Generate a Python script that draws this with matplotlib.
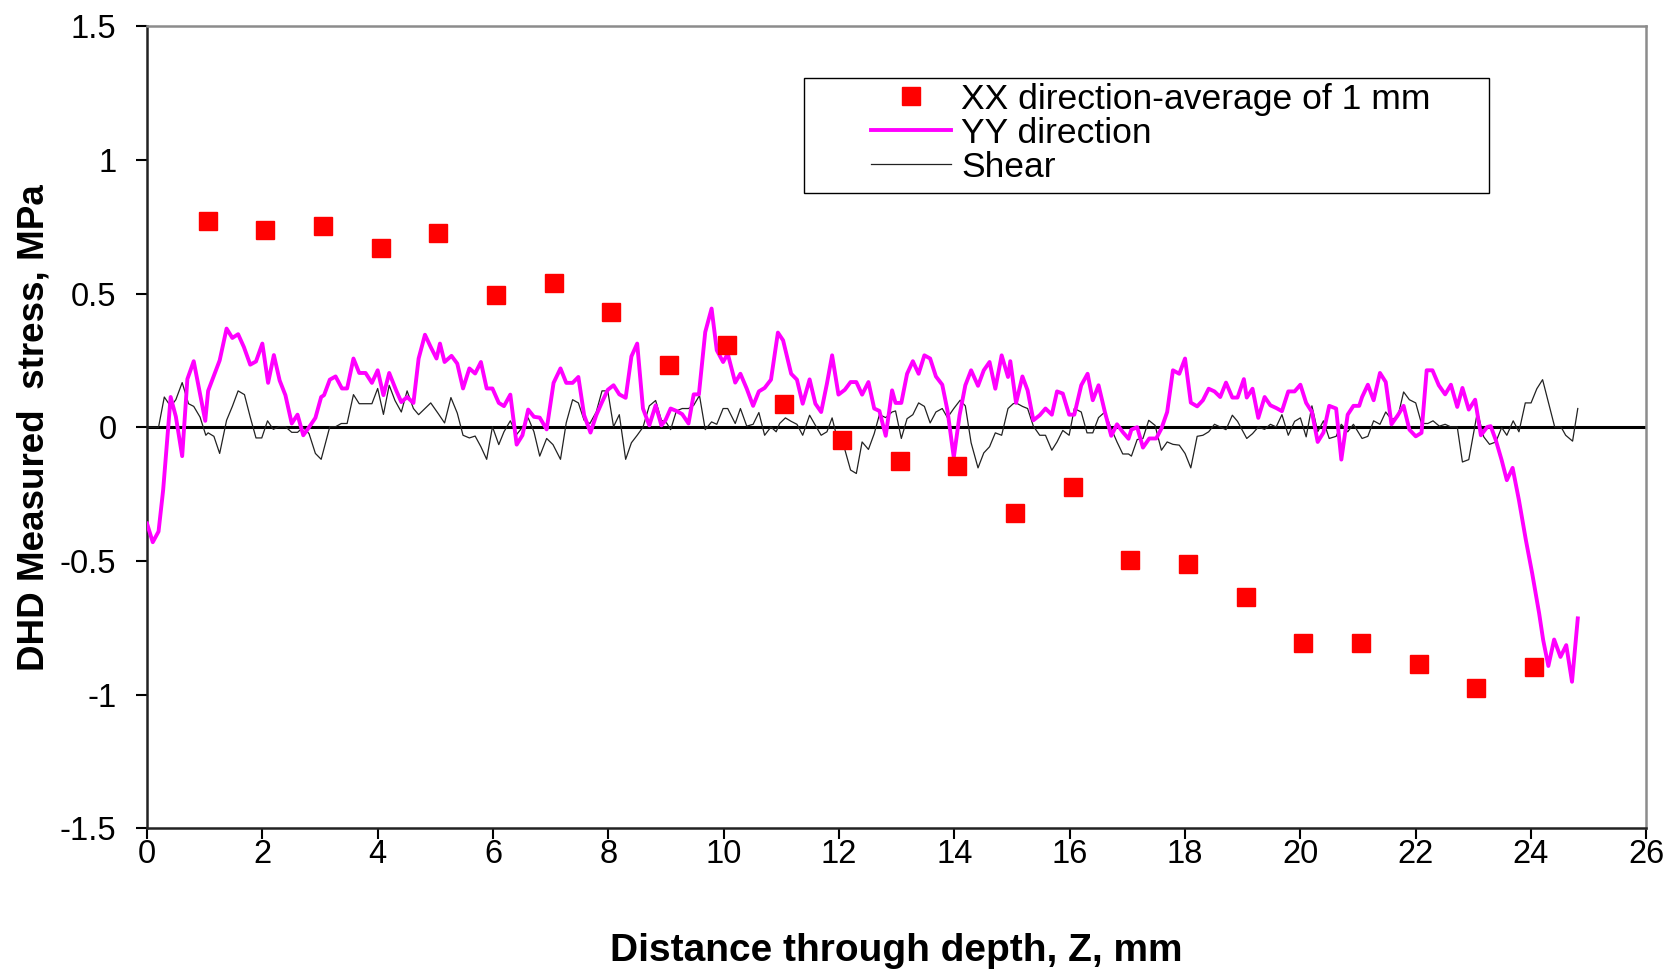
import matplotlib
matplotlib.use("Agg")
import matplotlib.pyplot as plt
from matplotlib.lines import Line2D
from matplotlib.patches import Rectangle

plt.rcParams['font.family'] = ['Liberation Sans', 'DejaVu Sans']
plt.rcParams['axes.unicode_minus'] = False

# XX direction - average of 1 mm (red squares)
xx_z = [1.05, 2.05, 3.05, 4.05, 5.05, 6.05, 7.05, 8.05, 9.05, 10.05, 11.05, 12.05,
        13.05, 14.05, 15.05, 16.05, 17.05, 18.05, 19.05, 20.05, 21.05, 22.05, 23.05, 24.05]
xx_s = [0.771, 0.739, 0.751, 0.671, 0.727, 0.495, 0.539, 0.43, 0.231, 0.306, 0.086, -0.046,
        -0.126, -0.146, -0.322, -0.222, -0.498, -0.51, -0.634, -0.807, -0.807, -0.887, -0.975, -0.895]

# YY direction (magenta line)
yy_z = [0.0, 0.1, 0.2, 0.28, 0.41, 0.5, 0.61, 0.70, 0.81, 1.01, 1.06, 1.26, 1.38, 1.48, 1.58, 1.68,
        1.79, 1.89, 2.0, 2.10, 2.2, 2.3, 2.40, 2.51, 2.61, 2.71, 2.81, 2.92, 3.02, 3.07, 3.17, 3.27,
        3.38, 3.47, 3.58, 3.68, 3.79, 3.90, 4.0, 4.1, 4.2, 4.32, 4.41, 4.51, 4.62, 4.71, 4.82, 4.92,
        5.02, 5.08, 5.16, 5.28, 5.38, 5.48, 5.59, 5.69, 5.79, 5.89, 5.99, 6.10, 6.19, 6.30, 6.41,
        6.51, 6.61, 6.71, 6.81, 6.93, 7.05, 7.17, 7.27, 7.38, 7.48, 7.58, 7.69, 7.79, 7.89, 7.99,
        8.09, 8.19, 8.30, 8.40, 8.50, 8.60, 8.71, 8.82, 8.92, 8.99, 9.08, 9.18, 9.28, 9.39, 9.48,
        9.57, 9.68, 9.79, 9.88, 9.99, 10.07, 10.20, 10.29, 10.40, 10.51, 10.61, 10.71, 10.82, 10.94,
        11.03, 11.17, 11.27, 11.37, 11.49, 11.59, 11.69, 11.79, 11.88, 11.99, 12.10, 12.20, 12.30,
        12.40, 12.51, 12.61, 12.70, 12.81, 12.92, 12.98, 13.08, 13.18, 13.28, 13.38, 13.48, 13.58,
        13.68, 13.79, 13.88, 13.99, 14.09, 14.19, 14.29, 14.41, 14.51, 14.61, 14.71, 14.82, 14.93,
        14.97, 15.07, 15.18, 15.27, 15.37, 15.48, 15.58, 15.69, 15.78, 15.88, 15.99, 16.08, 16.20,
        16.31, 16.40, 16.50, 16.61, 16.72, 16.82, 16.92, 17.02, 17.07, 17.17, 17.27, 17.38, 17.50,
        17.59, 17.69, 17.79, 17.90, 18.0, 18.10, 18.21, 18.31, 18.41, 18.51, 18.61, 18.71, 18.82,
        18.91, 19.02, 19.07, 19.17, 19.27, 19.38, 19.48, 19.58, 19.68, 19.79, 19.90, 20.0, 20.10,
        20.20, 20.30, 20.40, 20.50, 20.62, 20.71, 20.82, 20.92, 21.02, 21.07, 21.17, 21.27, 21.38,
        21.48, 21.58, 21.69, 21.79, 21.89, 22.0, 22.10, 22.19, 22.29, 22.40, 22.51, 22.61, 22.72,
        22.81, 22.92, 23.03, 23.13, 23.24, 23.30, 23.39, 23.49, 23.58, 23.68, 23.79, 23.91, 24.02,
        24.14, 24.21, 24.30, 24.40, 24.51, 24.61, 24.71, 24.81]
yy_s = [-0.36, -0.43, -0.39, -0.235, 0.113, 0.04, -0.108, 0.18, 0.247, 0.024, 0.136, 0.25, 0.369,
        0.334, 0.348, 0.30, 0.234, 0.246, 0.313, 0.166, 0.27, 0.175, 0.12, 0.014, 0.047, -0.03, 0.0,
        0.035, 0.113, 0.12, 0.178, 0.19, 0.145, 0.145, 0.257, 0.203, 0.203, 0.166, 0.213, 0.12,
        0.203, 0.138, 0.094, 0.113, 0.091, 0.257, 0.346, 0.30, 0.257, 0.313, 0.244, 0.267, 0.238,
        0.145, 0.22, 0.201, 0.244, 0.145, 0.145, 0.091, 0.079, 0.122, -0.065, -0.03, 0.066, 0.039,
        0.036, -0.008, 0.166, 0.22, 0.166, 0.166, 0.188, 0.045, -0.02, 0.045, 0.094, 0.14, 0.157,
        0.123, 0.11, 0.265, 0.313, 0.07, 0.007, 0.082, 0.007, 0.026, 0.07, 0.061, 0.049, 0.014,
        0.123, 0.123, 0.356, 0.444, 0.288, 0.244, 0.275, 0.167, 0.20, 0.144, 0.08, 0.134, 0.147,
        0.178, 0.354, 0.325, 0.20, 0.178, 0.088, 0.179, 0.088, 0.057, 0.163, 0.269, 0.122, 0.14,
        0.169, 0.169, 0.122, 0.169, 0.07, 0.061, -0.032, 0.138, 0.091, 0.091, 0.20, 0.247, 0.20,
        0.269, 0.257, 0.19, 0.159, 0.063, -0.113, 0.045, 0.157, 0.213, 0.155, 0.213, 0.244, 0.144,
        0.269, 0.188, 0.247, 0.091, 0.19, 0.138, 0.026, 0.045, 0.07, 0.047, 0.134, 0.126, 0.047,
        0.047, 0.157, 0.20, 0.101, 0.157, 0.057, -0.032, 0.011, -0.018, -0.043, -0.009, 0.0,
        -0.076, -0.042, -0.042, -0.005, 0.057, 0.213, 0.20, 0.257, 0.092, 0.078, 0.101, 0.144,
        0.134, 0.113, 0.167, 0.111, 0.111, 0.18, 0.111, 0.144, 0.035, 0.113, 0.082, 0.072, 0.06,
        0.134, 0.134, 0.159, 0.091, 0.057, -0.055, -0.020, 0.08, 0.07, -0.121, 0.047, 0.08, 0.08,
        0.113, 0.159, 0.101, 0.203, 0.169, 0.011, 0.045, 0.08, -0.009, -0.034, -0.021, 0.213,
        0.213, 0.157, 0.123, 0.159, 0.076, 0.147, 0.066, 0.103, -0.03, 0.001, 0.004, -0.049,
        -0.123, -0.198, -0.152, -0.273, -0.422, -0.547, -0.696, -0.796, -0.893, -0.794, -0.859,
        -0.815, -0.952, -0.715]

# Shear (thin black line)
sh_z = [0.0, 0.2, 0.30, 0.41, 0.50, 0.61, 0.72, 0.81, 0.92, 1.02, 1.06, 1.16, 1.26, 1.38, 1.48,
        1.58, 1.69, 1.79, 1.89, 1.99, 2.09, 2.19, 2.29, 2.40, 2.51, 2.61, 2.71, 2.81, 2.92, 3.02,
        3.17, 3.27, 3.37, 3.47, 3.58, 3.68, 3.79, 3.90, 4.0, 4.1, 4.2, 4.30, 4.41, 4.51, 4.62, 4.71,
        4.92, 5.05, 5.16, 5.27, 5.38, 5.48, 5.59, 5.69, 5.79, 5.89, 5.99, 6.10, 6.19, 6.30, 6.41,
        6.51, 6.61, 6.71, 6.81, 6.93, 7.04, 7.17, 7.27, 7.38, 7.48, 7.58, 7.68, 7.79, 7.89, 7.99,
        8.09, 8.19, 8.30, 8.40, 8.50, 8.60, 8.71, 8.82, 8.92, 9.01, 9.08, 9.18, 9.28, 9.39, 9.48,
        9.58, 9.68, 9.79, 9.88, 9.99, 10.07, 10.20, 10.29, 10.40, 10.51, 10.61, 10.71, 10.82, 10.91,
        10.97, 11.07, 11.17, 11.27, 11.37, 11.49, 11.59, 11.69, 11.79, 11.88, 11.99, 12.10, 12.20,
        12.30, 12.40, 12.51, 12.61, 12.70, 12.81, 12.92, 12.98, 13.08, 13.18, 13.28, 13.38, 13.48,
        13.58, 13.68, 13.79, 13.88, 13.99, 14.10, 14.19, 14.29, 14.41, 14.51, 14.61, 14.71, 14.82,
        14.93, 15.02, 15.07, 15.18, 15.27, 15.37, 15.48, 15.58, 15.69, 15.78, 15.88, 15.99, 16.08,
        16.20, 16.30, 16.40, 16.50, 16.61, 16.72, 16.82, 16.92, 17.02, 17.07, 17.17, 17.27, 17.37,
        17.48, 17.59, 17.69, 17.79, 17.90, 18.0, 18.10, 18.21, 18.31, 18.41, 18.51, 18.61, 18.71,
        18.82, 18.91, 19.07, 19.17, 19.27, 19.38, 19.48, 19.58, 19.68, 19.79, 19.90, 20.0, 20.10,
        20.20, 20.30, 20.40, 20.50, 20.62, 20.71, 20.82, 20.92, 21.07, 21.17, 21.27, 21.38, 21.48,
        21.58, 21.69, 21.79, 21.89, 22.0, 22.10, 22.21, 22.30, 22.41, 22.51, 22.61, 22.72, 22.81,
        22.92, 23.07, 23.18, 23.28, 23.39, 23.49, 23.58, 23.69, 23.79, 23.90, 24.0, 24.10, 24.20,
        24.30, 24.41, 24.52, 24.60, 24.72, 24.81]
sh_s = [0.0, 0.0, 0.113, 0.078, 0.103, 0.167, 0.088, 0.078, 0.038, -0.03, -0.021, -0.034, -0.098,
        0.026, 0.078, 0.136, 0.122, 0.038, -0.04, -0.04, 0.024, -0.008, 0.002, 0.002, -0.019,
        -0.019, 0.0, -0.024, -0.098, -0.12, 0.002, 0.002, 0.014, 0.014, 0.122, 0.088, 0.088, 0.088,
        0.145, 0.048, 0.157, 0.10, 0.057, 0.136, 0.07, 0.047, 0.091, 0.051, 0.016, 0.111, 0.053,
        -0.03, -0.04, -0.033, -0.073, -0.12, 0.002, -0.065, -0.017, 0.024, -0.027, 0.0, 0.035,
        -0.017, -0.108, -0.042, -0.065, -0.12, 0.017, 0.103, 0.091, 0.026, 0.014, 0.057, 0.136,
        0.136, 0.002, 0.047, -0.12, -0.058, -0.03, 0.0, 0.08, 0.10, 0.026, 0.016, -0.009, 0.061,
        0.07, 0.07, 0.082, 0.119, -0.009, 0.02, 0.011, 0.07, 0.07, 0.014, 0.07, 0.004, 0.011, 0.055,
        -0.03, 0.001, -0.017, 0.014, 0.035, 0.022, 0.011, -0.03, 0.045, 0.007, -0.03, -0.017, 0.035,
        -0.061, -0.083, -0.16, -0.173, -0.055, -0.083, -0.024, 0.047, 0.036, 0.057, 0.061, -0.042,
        0.032, 0.047, 0.091, 0.078, 0.016, 0.057, 0.07, 0.036, 0.07, 0.101, 0.08, -0.058, -0.152,
        -0.096, -0.073, -0.021, -0.03, 0.07, 0.088, 0.091, 0.078, 0.07, 0.004, -0.03, -0.03, -0.086,
        -0.055, -0.012, -0.03, 0.07, 0.057, -0.021, -0.021, 0.036, 0.057, -0.005, -0.055, -0.1,
        -0.1, -0.108, -0.046, -0.042, 0.026, 0.007, -0.086, -0.055, -0.064, -0.067, -0.098, -0.152,
        -0.034, -0.03, -0.017, 0.011, 0.001, -0.009, 0.045, 0.022, -0.042, -0.024, 0.001, -0.008,
        0.011, 0.001, 0.047, -0.03, 0.022, 0.035, -0.036, 0.08, -0.017, 0.024, -0.042, -0.034,
        0.011, -0.017, 0.011, -0.042, -0.034, 0.024, 0.011, 0.057, 0.029, 0.039, 0.132, 0.103,
        0.091, 0.014, 0.014, 0.024, 0.004, 0.011, 0.001, 0.001, -0.13, -0.121, 0.057, -0.036,
        -0.064, -0.055, -0.001, -0.03, 0.024, -0.017, 0.091, 0.091, 0.144, 0.178, 0.094, 0.001,
        0.001, -0.03, -0.052, 0.07]

x_ticks = [0, 2, 4, 6, 8, 10, 12, 14, 16, 18, 20, 22, 24, 26]
y_ticks = [-1.5, -1, -0.5, 0, 0.5, 1, 1.5]
y_tick_labels = ['-1.5', '-1', '-0.5', '0', '0.5', '1', '1.5']
legend_labels = ['XX direction-average of 1 mm', 'YY direction', 'Shear']

fig = plt.figure(figsize=(16.8, 9.71), dpi=100)
ax = fig.add_axes([0.0875, 0.147, 0.8925, 0.826])

ax.axhline(0, color='black', lw=2.2, zorder=1)
ax.plot(sh_z, sh_s, color='#222222', lw=0.9, zorder=2)
ax.plot(yy_z, yy_s, color='#ff00ff', lw=2.8, zorder=3)
ax.plot(xx_z, xx_s, linestyle='none', marker='s', color='#ff0000', markersize=12.5, zorder=4)

ax.set_xlim(0, 26)
ax.set_ylim(-1.5, 1.5)
ax.set_xticks(x_ticks)
ax.set_xticklabels([str(t) for t in x_ticks])
ax.set_yticks(y_ticks)
ax.set_yticklabels(y_tick_labels)
ax.tick_params(axis='both', direction='out', length=8, width=1.5, labelsize=23.5, colors='black')
ax.tick_params(axis='x', pad=0)
ax.tick_params(axis='y', pad=14)

for s in ['left', 'bottom']:
    ax.spines[s].set_color('#222222')
    ax.spines[s].set_linewidth(1.8)
for s in ['top', 'right']:
    ax.spines[s].set_color('#8c8c8c')
    ax.spines[s].set_linewidth(1.8)

ax.set_xlabel('Distance through depth, Z, mm', fontsize=28, fontweight='bold', labelpad=45)
ax.set_ylabel('DHD Measured  stress, MPa', fontsize=26.5, fontweight='bold', labelpad=6)

# legend frame
ax.add_patch(Rectangle((0.4379, 0.7917), 0.8950 - 0.4379, 0.936 - 0.7917,
                       transform=ax.transAxes, facecolor='white', edgecolor='black',
                       lw=1.0, zorder=5))

handles = [
    Line2D([], [], linestyle='none', marker='s', color='#ff0000', markersize=12.5),
    Line2D([], [], color='#ff00ff', lw=2.8),
    Line2D([], [], color='#222222', lw=0.9),
]
leg = ax.legend(handles, legend_labels, loc='center left', bbox_to_anchor=(0.4829, 0.8665),
                fontsize=25.5, frameon=False, borderpad=0, labelspacing=0.03,
                handlelength=2.25, handletextpad=0.3, borderaxespad=0)
leg.set_zorder(6)

fig.savefig('out.png', dpi=100)
